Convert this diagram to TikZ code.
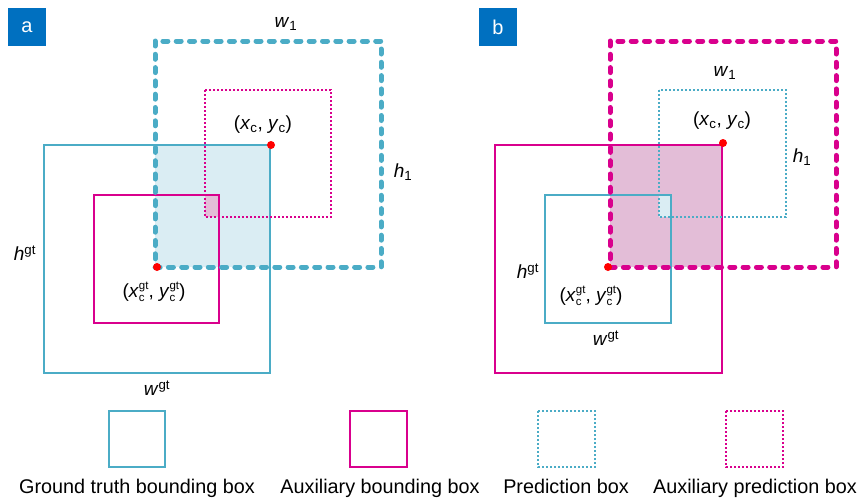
\documentclass[tikz,border=0pt]{standalone}
\usepackage{fontspec}
\setmainfont{Liberation Sans}
\definecolor{aqua}{HTML}{4BACC6}
\definecolor{mag}{HTML}{D9008D}
\definecolor{lblue}{HTML}{DAEDF3}
\definecolor{lpink}{HTML}{E3BDD7}
\definecolor{tagblue}{HTML}{0070C0}
\newcommand\supsub[2]{\leavevmode\setbox0=\hbox{\fontsize{11.5}{12}\selectfont #1}\setbox2=\hbox{\fontsize{11.5}{12}\selectfont #2}\ifdim\wd0>\wd2 \rlap{\lower4.5pt\box2}\raise7.5pt\box0 \else \rlap{\raise7.5pt\box0}\lower4.5pt\box2 \fi}
\begin{document}
\begin{tikzpicture}[x=1pt,y=-1pt,
  every node/.style={font=\fontsize{19}{23}\selectfont, inner sep=0pt},
  thinbox/.style={line width=1.5pt},
  midbox/.style={line width=2.3pt},
  bigdash/.style={line width=5pt, line cap=round, line join=round, dash pattern=on 5pt off 8.3pt},
  dotbox/.style={line width=2pt, dash pattern=on 2.2pt off 1.8pt},
  reddot/.style={circle, fill=red, minimum size=8pt, inner sep=0pt},
  tag/.style={fill=tagblue, text=white, minimum size=38pt, font=\fontsize{20}{24}\selectfont},
  legtext/.style={anchor=base, font=\fontsize{19.8}{24}\selectfont}]
\useasboundingbox (0,0) rectangle (858,498);
% ---------- panel a ----------
\node[tag] (taga) at (27,27) {a};
\fill[lblue] (155,145) rectangle (270,267);
\draw[aqua, thinbox] (44,145) rectangle (270,373);
\fill[lpink] (205,195) rectangle (219,217);
\draw[mag, midbox] (94,195) rectangle (219,323);
\draw[mag, dotbox] (205,90) rectangle (331,217);
\draw[aqua, bigdash] (155,41) rectangle (381,267);
\node[reddot] (ca) at (271,145) {};
\node[reddot] (ga) at (157,267) {};
\node (w1a) at (286,24) {\textit{w}\textsubscript{1}};
\node (xca) at (263,125) {(\textit{x}\textsubscript{c}, \textit{y}\textsubscript{c})};
\node (h1a) at (403,172) {\textit{h}\textsubscript{1}};
\node (hgta) at (25,253) {\textit{h}\textsuperscript{gt}};
\node (xgta) at (154,292) {(\textit{x}\supsub{gt}{c}, \textit{y}\supsub{gt}{c})};
\node (wgta) at (157,388) {\textit{w}\textsuperscript{gt}};
% ---------- panel b ----------
\node[tag] (tagb) at (498,27) {b};
\fill[lpink] (610,145) rectangle (722,267);
\draw[mag, thinbox] (495,145) rectangle (722,373);
\fill[lblue] (659,195) rectangle (671,217);
\draw[aqua, midbox] (545,195) rectangle (671,323);
\draw[aqua, dotbox] (659,90) rectangle (786,217);
\draw[mag, bigdash] (610,41) rectangle (836,267);
\node[reddot] (cb) at (723,143) {};
\node[reddot] (gb) at (608,267) {};
\node (w1b) at (725,73) {\textit{w}\textsubscript{1}};
\node (xcb) at (722,121) {(\textit{x}\textsubscript{c}, \textit{y}\textsubscript{c})};
\node (h1b) at (802,157) {\textit{h}\textsubscript{1}};
\node (hgtb) at (528,271) {\textit{h}\textsuperscript{gt}};
\node (xgtb) at (591,296) {(\textit{x}\supsub{gt}{c}, \textit{y}\supsub{gt}{c})};
\node (wgtb) at (606,338) {\textit{w}\textsuperscript{gt}};
% ---------- legend ----------
\draw[aqua, thinbox] (109,411) rectangle (165,467);
\draw[mag, thinbox] (350,411) rectangle (407,467);
\draw[aqua, dotbox] (538,411) rectangle (595,467);
\draw[mag, dotbox] (726,411) rectangle (783,467);
\node[legtext] (l1) at (137,493) {Ground truth bounding box};
\node[legtext] (l2) at (380,493) {Auxiliary bounding box};
\node[legtext] (l3) at (566,493) {Prediction box};
\node[legtext] (l4) at (755,493) {Auxiliary prediction box};
\end{tikzpicture}
\end{document}
